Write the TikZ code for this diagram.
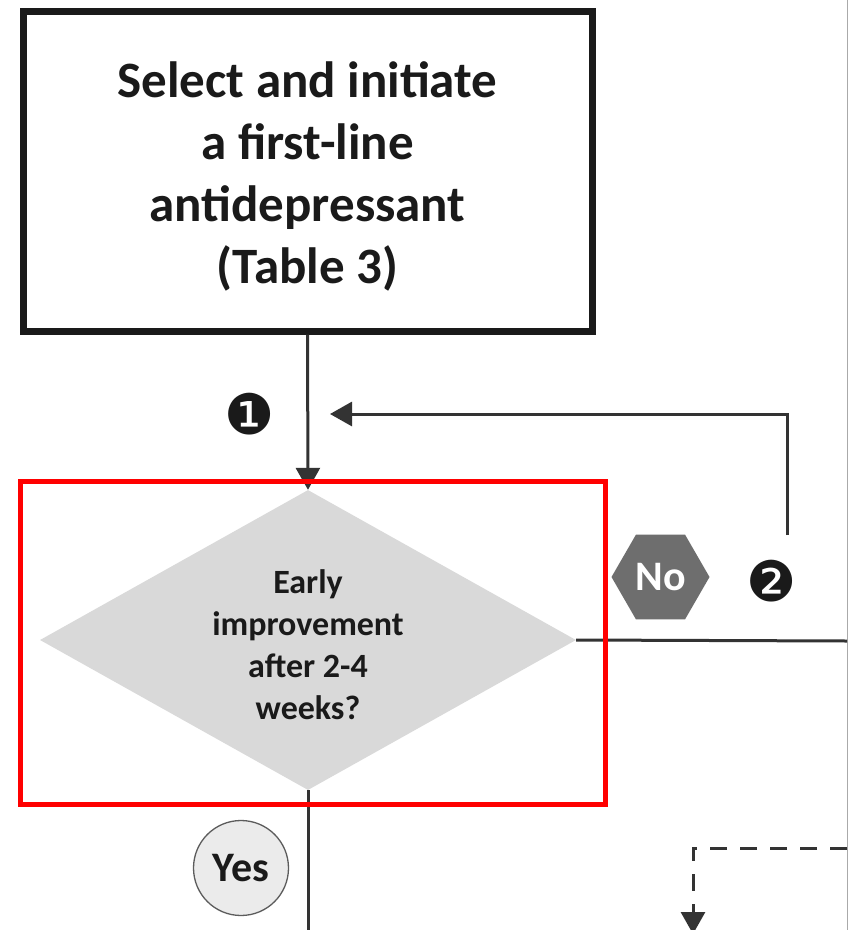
\documentclass[tikz,border=0pt]{standalone}
\usepackage{fontspec}
\setmainfont{Carlito}
\newfontfamily\dingfont{DejaVu Sans}
\usetikzlibrary{shapes.geometric,arrows.meta}
\definecolor{ink}{HTML}{1A1A1A}
\definecolor{wire}{HTML}{333333}
\definecolor{diafill}{HTML}{D9D9D9}
\definecolor{hexfill}{HTML}{6E6E6E}
\definecolor{yesfill}{HTML}{EBEBEB}
\definecolor{frame}{HTML}{AAAAAA}
\tikzset{
  x=1pt, y=-1pt,
  startbox/.style={draw=ink, line width=7pt, rectangle, minimum width=569pt, minimum height=320pt,
    inner sep=0pt},
  starttext/.style={inner sep=0pt, align=center, text=ink, font=\bfseries\fontsize{51}{62}\selectfont},
  decision/.style={diamond, fill=diafill, draw=none, minimum width=536pt, minimum height=300pt,
    inner sep=0pt},
  decisiontext/.style={inner sep=0pt, align=center, text=ink, font=\bfseries\fontsize{34}{42}\selectfont},
  nohex/.style={regular polygon, regular polygon sides=6, minimum size=98pt, inner sep=0pt,
    fill=hexfill, text=white, font=\bfseries\fontsize{42}{48}\selectfont},
  yesdot/.style={circle, minimum size=95pt, inner sep=0pt, fill=yesfill, draw=wire!80,
    line width=1.3pt, text=ink, font=\bfseries\fontsize{42}{48}\selectfont},
  stepnum/.style={inner sep=0pt, text=ink, font=\dingfont\fontsize{56}{60}\selectfont},
  flow/.style={draw=wire, line width=3pt},
  tip/.style={-{Triangle[length=22pt, width=24pt]}},
  highlight/.style={draw=red, line width=5pt},
}
\begin{document}
\begin{tikzpicture}
\useasboundingbox (0,0) rectangle (852,930);
\fill[white] (0,0) rectangle (852,930);

% page edge
\draw[frame, line width=1pt] (847,0) -- (847,930);

% first step
\node[startbox] (start) at (307.5,171) {};
\node[starttext] (starttxt) at (307.5,176) {Select and initiate\\a first-line\\antidepressant\\(Table 3)};

% decision
\node[decision] (early) at (308,640) {};
\node[decisiontext] (earlytxt) at (308,645) {Early\\improvement\\after 2-4\\weeks?};

% outcome labels
\node[nohex] (no) at (660.5,577) {No};
\node[yesdot] (yes) at (241,868) {Yes};
\node[stepnum] (one) at (250,414) {❶};
\node[stepnum] (two) at (772,581) {❷};

% connectors
\coordinate (loopfoot) at (787,535);
\coordinate (looptip) at (330,414);
\coordinate (rightend) at (847,641);
\coordinate (yesend) at (308,932);
\coordinate (dashright) at (847,848);
\coordinate (dashcorner) at (693,848);
\coordinate (dashtip) at (693,934);

\draw[flow, tip] (start.south) -- (early.north);
\draw[flow, tip] (loopfoot) |- (looptip);
\draw[flow] (early.east) -- (rightend);
\draw[flow] (early.south) -- (yesend);
\draw[flow, tip, dash pattern=on 17pt off 13pt] (dashright) -- (dashcorner) -- (dashtip);

% highlight frame
\draw[highlight] (20,481.5) rectangle (605,804);
\end{tikzpicture}
\end{document}
